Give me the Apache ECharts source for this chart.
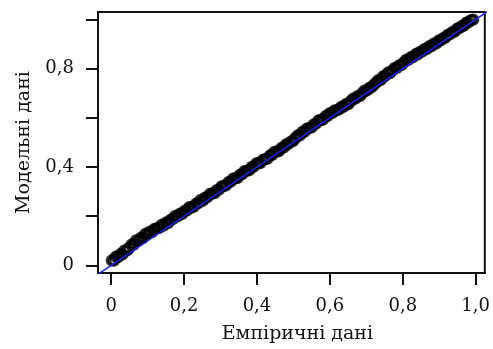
<!DOCTYPE html>
<html>
<head>
<meta charset="utf-8">
<script src="https://cdn.jsdelivr.net/npm/echarts@6/dist/echarts.min.js"></script>
<style>html,body{margin:0;padding:0;background:#fff}#c{width:493px;height:349px}</style>
</head>
<body>
<div id="c"></div>
<script>
// Empirical quantiles (x) and model quantiles (y)
const empirical = [0.002,0.008,0.013,0.019,0.026,0.031,0.037,0.044,0.049,0.056,
0.062,0.068,0.075,0.081,0.087,0.094,0.100,0.106,0.113,0.119,
0.125,0.132,0.138,0.144,0.151,0.157,0.163,0.170,0.176,0.182,
0.189,0.195,0.201,0.208,0.214,0.220,0.227,0.233,0.239,0.246,
0.252,0.258,0.265,0.271,0.277,0.284,0.290,0.296,0.303,0.309,
0.315,0.322,0.328,0.334,0.341,0.347,0.353,0.360,0.366,0.372,
0.379,0.385,0.391,0.398,0.404,0.410,0.417,0.423,0.429,0.436,
0.442,0.448,0.455,0.461,0.467,0.474,0.480,0.486,0.493,0.499,
0.505,0.512,0.518,0.524,0.531,0.537,0.543,0.550,0.556,0.562,
0.569,0.575,0.581,0.588,0.594,0.600,0.607,0.613,0.619,0.626,
0.632,0.638,0.645,0.651,0.657,0.664,0.670,0.676,0.683,0.689,
0.695,0.702,0.708,0.714,0.721,0.727,0.733,0.740,0.746,0.752,
0.759,0.765,0.771,0.778,0.784,0.790,0.797,0.803,0.809,0.816,
0.822,0.828,0.835,0.841,0.847,0.854,0.860,0.866,0.873,0.879,
0.885,0.892,0.898,0.904,0.911,0.917,0.923,0.930,0.936,0.942,
0.949,0.955,0.961,0.968,0.974,0.980,0.987,0.993];
const model = [0.020,0.020,0.035,0.034,0.046,0.045,0.061,0.061,0.070,0.084,
0.084,0.101,0.101,0.111,0.111,0.128,0.127,0.137,0.136,0.148,
0.150,0.152,0.164,0.162,0.175,0.173,0.185,0.189,0.201,0.199,
0.210,0.209,0.221,0.224,0.236,0.235,0.239,0.251,0.253,0.266,
0.263,0.275,0.278,0.290,0.292,0.294,0.306,0.308,0.321,0.323,
0.325,0.338,0.340,0.352,0.354,0.356,0.368,0.371,0.383,0.384,
0.387,0.399,0.401,0.414,0.415,0.417,0.430,0.432,0.434,0.447,
0.449,0.461,0.463,0.465,0.477,0.480,0.492,0.494,0.503,0.505,
0.517,0.528,0.528,0.542,0.544,0.556,0.558,0.561,0.573,0.576,
0.589,0.591,0.593,0.606,0.608,0.619,0.620,0.630,0.630,0.635,
0.645,0.645,0.656,0.656,0.667,0.678,0.678,0.688,0.689,0.700,
0.710,0.711,0.721,0.724,0.735,0.743,0.753,0.754,0.768,0.770,
0.783,0.782,0.792,0.803,0.803,0.813,0.815,0.825,0.835,0.836,
0.846,0.847,0.858,0.858,0.868,0.870,0.880,0.880,0.891,0.891,
0.901,0.902,0.913,0.915,0.924,0.926,0.937,0.940,0.948,0.950,
0.962,0.964,0.972,0.975,0.986,0.988,0.997,0.999];
// Reference line y = x endpoints
const refLine = [[-0.05,-0.05],[1.05,1.05]];
const xTicks = [0,0.2,0.4,0.6,0.8,1.0];
const xTickLabels = ['0','0,2','0,4','0,6','0,8','1,0'];
const yTicks = [0,0.2,0.4,0.6,0.8,1.0];
const yLabelValues = [0,0.4,0.8];
const yTickLabels = ['0','0,4','0,8'];

const fmt = (vals, labs) => v => { const i = vals.findIndex(t => Math.abs(t - v) < 1e-6); return i >= 0 ? labs[i] : ''; };

const font = 'DejaVu Serif';
const ink = '#111';
const chart = echarts.init(document.getElementById('c'), null, {renderer: 'canvas'});
chart.setOption({
  animation: false,
  backgroundColor: '#fff',
  grid: {left: 98, top: 12, right: 7, bottom: 73, show: true, borderColor: ink, borderWidth: 2, backgroundColor: 'transparent'},
  xAxis: {
    type: 'value', min: -0.036, max: 1.025,
    name: 'Емпіричні дані', nameLocation: 'middle', nameGap: 52,
    nameTextStyle: {fontFamily: font, fontSize: 19, color: ink, padding: [0, 0, 0, 12]},
    axisLine: {show: true, onZero: false, lineStyle: {color: ink, width: 2}},
    axisTick: {show: true, inside: false, length: 12, customValues: xTicks, lineStyle: {color: ink, width: 2}},
    axisLabel: {customValues: xTicks, formatter: fmt(xTicks, xTickLabels), margin: 24, fontFamily: font, fontSize: 18, color: ink},
    splitLine: {show: false}
  },
  yAxis: {
    type: 'value', min: -0.031, max: 1.03,
    name: 'Модельні дані', nameLocation: 'middle', nameGap: 64,
    nameTextStyle: {fontFamily: font, fontSize: 19, color: ink, padding: [0, 0, 0, 0]},
    axisLine: {show: true, onZero: false, lineStyle: {color: ink, width: 2}},
    axisTick: {show: true, inside: false, length: 12, customValues: yTicks, lineStyle: {color: ink, width: 2}},
    axisLabel: {customValues: yLabelValues, formatter: fmt(yLabelValues, yTickLabels), margin: 24, fontFamily: font, fontSize: 18, color: ink},
    splitLine: {show: false}
  },
  series: [
    {
      type: 'scatter',
      data: empirical.map((x, i) => [x, model[i]]),
      symbol: 'circle', symbolSize: 9,
      itemStyle: {color: 'rgba(0,0,0,0)', borderColor: '#000', borderWidth: 3.4},
      z: 2
    },
    {
      type: 'line',
      data: refLine,
      showSymbol: false, symbol: 'none',
      lineStyle: {color: '#1f1fe6', width: 1.5},
      clip: true,
      z: 3
    }
  ]
});
</script>
</body>
</html>
